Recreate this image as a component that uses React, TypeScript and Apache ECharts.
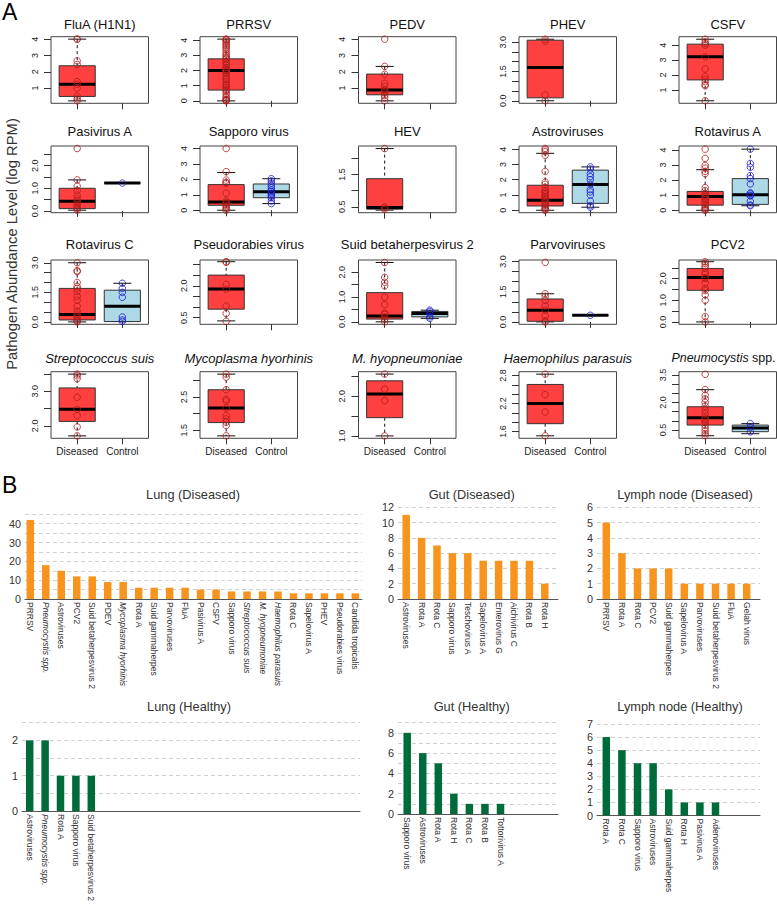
import React, { useEffect, useRef } from "react";
import * as echarts from "echarts";

const FONT = '"Liberation Sans", Arial, Helvetica, sans-serif';

// ---------------- Panel A : boxplots ----------------
const pathogenTitles = [
  "FluA (H1N1)", "PRRSV", "PEDV", "PHEV", "CSFV",
  "Pasivirus A", "Sapporo virus", "HEV", "Astroviruses", "Rotavirus A",
  "Rotavirus C", "Pseudorabies virus", "Suid betaherpesvirus 2", "Parvoviruses", "PCV2",
  "{i|Streptococcus suis}", "{i|Mycoplasma hyorhinis}", "{i|M. hyopneumoniae}", "{i|Haemophilus parasuis}", "{i|Pneumocystis} spp.",
];
const groupNames = ["Diseased", "Control"];

const yAxisRanges = [
  [0.07, 4.15], [-0.16, 4.23], [0.07, 4.15], [-0.13, 3.28], [0.1, 4.57],
  [-0.08, 2.87], [-0.16, 4.16], [0.32, 2.38], [-0.16, 4.21], [-0.16, 4.26],
  [-0.12, 3.14], [0.19, 3.21], [-0.1, 2.5], [-0.12, 3.08], [-0.11, 2.86],
  [1.64, 3.57], [1.256, 3.264], [0.94, 2.62], [1.457, 2.883], [0.05, 3.68],
];
const yAxisTicks = [
  [1, 2, 3, 4], [0, 1, 2, 3, 4], [1, 2, 3, 4], [0, 0.5, 1, 1.5, 2, 2.5, 3], [1, 2, 3, 4],
  [0, 0.5, 1, 1.5, 2, 2.5], [0, 1, 2, 3, 4], [0.5, 1, 1.5, 2], [0, 1, 2, 3, 4], [0, 1, 2, 3, 4],
  [0, 0.5, 1, 1.5, 2, 2.5, 3], [0.5, 1, 1.5, 2, 2.5, 3], [0, 0.5, 1, 1.5, 2], [0, 0.5, 1, 1.5, 2, 2.5, 3], [0, 0.5, 1, 1.5, 2, 2.5],
  [2, 2.5, 3, 3.5], [1.5, 2, 2.5, 3], [1, 1.5, 2, 2.5], [1.6, 1.8, 2, 2.2, 2.4, 2.6, 2.8], [0.5, 1, 1.5, 2, 2.5, 3, 3.5],
];
const yAxisTickLabels = [
  [1, 2, 3, 4], [0, 1, 2, 3, 4], [1, 2, 3, 4], [0, 1.5, 3], [1, 2, 3, 4],
  [0, 1, 2], [0, 1, 2, 3, 4], [0.5, 1.5], [0, 1, 2, 3, 4], [0, 1, 2, 3, 4],
  [0, 1.5, 3], [0.5, 2], [0, 1, 2], [0, 1.5, 3], [0, 1, 2],
  [2, 3], [1.5, 2.5], [1, 2], [1.6, 2.2, 2.8], [0.5, 2, 3.5],
];
const yLabelDecimals = [0, 0, 0, 1, 0, 1, 0, 1, 0, 0, 1, 1, 1, 1, 1, 1, 1, 1, 1, 1];

// [lower whisker, Q1, median, Q3, upper whisker]
const diseasedBox = [
  [0.22, 0.49, 1.24, 2.37, 4.0], [0.0, 0.71, 2.0, 2.77, 4.07], [0.22, 0.59, 0.88, 1.86, 2.33], [0.0, 0.15, 1.7, 3.1, 3.15], [0.27, 1.67, 3.22, 4.07, 4.4],
  [0.03, 0.1, 0.43, 1.0, 1.37], [0.0, 0.32, 0.53, 1.66, 2.44], [0.4, 0.43, 0.48, 1.37, 2.3], [0.0, 0.28, 0.66, 1.64, 3.73], [0.0, 0.34, 0.92, 1.25, 2.69],
  [0.0, 0.1, 0.38, 1.7, 3.0], [0.35, 0.9, 1.85, 2.5, 3.13], [0.0, 0.11, 0.24, 1.18, 2.4], [0.0, 0.03, 0.58, 1.14, 1.4], [0.0, 1.46, 2.05, 2.47, 2.78],
  [1.71, 2.13, 2.48, 3.1, 3.5], [1.33, 1.73, 2.17, 2.72, 3.19], [1.0, 1.46, 2.06, 2.39, 2.56], [1.51, 1.77, 2.2, 2.61, 2.83], [0.19, 0.77, 1.17, 1.77, 2.7],
];
const controlBox = [
  null, null, null, null, null,
  [1.23, 1.23, 1.23, 1.23, 1.23], [0.43, 0.81, 1.19, 1.7, 2.04], null, [0.2, 0.45, 1.68, 2.63, 2.84], [0.3, 0.39, 1.03, 2.1, 4.05],
  [0.02, 0.02, 0.79, 1.61, 1.96], null, [0.14, 0.2, 0.34, 0.42, 0.47], [0.33, 0.33, 0.33, 0.33, 0.33], null,
  null, null, null, null, [0.3, 0.41, 0.61, 0.77, 0.85],
];
const diseasedSamples = [
  [4.0, 4.0, 2.67, 2.45, 1.4, 1.24, 1.0, 0.5, 0.34, 0.22],
  [0, 0.02, 0.05, 0.1, 0.2, 0.3, 0.45, 0.6, 0.7, 0.75, 0.9, 1.0, 1.1, 1.25, 1.4, 1.5, 1.65, 1.8, 1.9, 2.0, 2.0, 2.05, 2.1, 2.2, 2.35, 2.5, 2.6, 2.75, 2.8, 2.9, 3.0, 3.1, 3.25, 3.4, 3.5, 3.6, 3.7, 3.8, 3.9, 4.0, 4.05, 4.07],
  [4.0, 2.33, 1.85, 1.3, 1.1, 0.9, 0.85, 0.7, 0.55, 0.4, 0.22],
  [3.15, 3.05, 0.3, 0.0],
  [4.4, 4.22, 4.1, 4.0, 3.22, 2.4, 1.89, 1.7, 1.55, 1.35, 1.27, 0.27],
  [2.76, 1.37, 1.1, 0.9, 0.7, 0.55, 0.45, 0.35, 0.25, 0.15, 0.1, 0.03],
  [4.0, 2.5, 1.95, 1.8, 1.75, 1.1, 0.6, 0.5, 0.4, 0.3, 0.2, 0.1, 0.0],
  [2.3, 0.5, 0.46, 0.42],
  [4.05, 3.95, 3.83, 3.6, 2.54, 1.85, 1.7, 1.5, 1.3, 1.2, 1.1, 1.0, 0.9, 0.8, 0.7, 0.6, 0.5, 0.4, 0.3, 0.2, 0.1, 0.05, 0.0],
  [4.05, 3.44, 2.97, 2.8, 2.58, 2.43, 1.5, 1.3, 1.1, 1.0, 0.9, 0.8, 0.7, 0.55, 0.4, 0.3, 0.2, 0.1, 0.05, 0.0],
  [3.0, 2.6, 2.55, 2.0, 1.8, 1.7, 1.55, 1.3, 1.1, 0.8, 0.55, 0.4, 0.3, 0.2, 0.1, 0.05, 0.0],
  [3.13, 3.1, 2.06, 1.84, 1.05, 0.7, 0.33],
  [2.4, 1.8, 1.6, 1.45, 1.0, 0.7, 0.35, 0.3, 0.2, 0.1, 0.0],
  [2.96, 1.4, 1.27, 1.07, 0.79, 0.58, 0.3, 0.05, 0.0],
  [2.78, 2.7, 2.6, 2.5, 2.3, 2.2, 2.05, 2.0, 1.8, 1.55, 1.45, 1.25, 1.0, 0.25, 0.0],
  [3.5, 3.45, 3.37, 2.83, 2.48, 2.3, 1.97, 1.71],
  [3.19, 3.1, 2.72, 2.43, 2.38, 2.17, 1.94, 1.84, 1.74, 1.64, 1.33],
  [2.56, 2.18, 1.89, 1.0],
  [2.83, 2.39, 2.02, 1.51],
  [3.54, 2.7, 2.4, 2.2, 2.0, 1.8, 1.6, 1.4, 1.2, 1.1, 1.0, 0.9, 0.75, 0.6, 0.45, 0.3, 0.19],
];
const controlSamples = [
  [], [], [], [], [],
  [1.23], [2.04, 1.9, 1.75, 1.6, 1.45, 1.3, 1.2, 1.1, 1.0, 0.9, 0.8, 0.6, 0.43], [], [2.84, 2.7, 2.4, 2.2, 2.0, 1.7, 1.35, 1.2, 1.0, 0.6, 0.3, 0.2], [4.05, 3.1, 2.85, 2.3, 2.1, 1.75, 1.15, 1.1, 1.0, 0.95, 0.6, 0.35, 0.3],
  [1.96, 1.7, 1.5, 1.25, 0.25, 0.1, 0.02], [], [0.47, 0.42, 0.34, 0.2, 0.14], [0.33], [],
  [], [], [], [], [0.85, 0.65, 0.4],
];

// ---------------- Panel B : detection counts ----------------
const lungDiseasedNames = ["PRRSV", "Pneumocystis spp.", "Astroviruses", "PCV2", "Suid betaherpesvirus 2", "PDEV", "Mycoplasma hyorhinis", "Rota A", "Suid gammaherpes", "Parvoviruses", "FluA", "Pasivirus A", "CSFV", "Sapporo virus", "Streptococcus suis", "M. hyopneumoniae", "Haemophilus parasuis", "Rota C", "Sapelovirus A", "PHEV", "Pseudorabies virus", "Candida tropicalis"];
const lungDiseasedCounts = [42, 18, 15, 12, 12, 9, 9, 6, 6, 6, 6, 5, 5, 4, 4, 4, 4, 3, 3, 3, 3, 3];
const gutDiseasedNames = ["Astroviruses", "Rota A", "Rota C", "Sapporo virus", "Teschovirus A", "Sapelovirus A", "Enterovirus G", "Aichivirus C", "Rota B", "Rota H"];
const gutDiseasedCounts = [11, 8, 7, 6, 6, 5, 5, 5, 5, 2];
const lymphDiseasedNames = ["PRRSV", "Rota A", "Rota C", "PCV2", "Suid gammaherpes", "Sapelovirus A", "Parvoviruses", "Suid betaherpesvirus 2", "FluA", "Gelah virus"];
const lymphDiseasedCounts = [5, 3, 2, 2, 2, 1, 1, 1, 1, 1];
const lungHealthyNames = ["Astroviruses", "Pneumocystis spp.", "Rota A", "Sapporo virus", "Suid betaherpesvirus 2"];
const lungHealthyCounts = [2, 2, 1, 1, 1];
const gutHealthyNames = ["Sapporo virus", "Astroviruses", "Rota A", "Rota H", "Rota C", "Rota B", "Tottorivirus A"];
const gutHealthyCounts = [8, 6, 5, 2, 1, 1, 1];
const lymphHealthyNames = ["Rota A", "Rota C", "Sapporo virus", "Astroviruses", "Suid gammaherpes", "Rota H", "Pasivirus A", "Adenoviruses"];
const lymphHealthyCounts = [6, 5, 4, 4, 2, 1, 1, 1];
const italicTaxa = ["Pneumocystis spp.", "Mycoplasma hyorhinis", "Streptococcus suis", "M. hyopneumoniae", "Haemophilus parasuis"];

// ---------------- layout ----------------
const A_COL_LEFT = [51, 200, 358.5, 519, 679];
const A_W = 97.5;
const A_ROW_TOP = [36.7, 146, 260, 371.7];
const A_ROW_H = [66.6, 66.7, 64.3, 66.6];
const A_TITLE_Y = [24, 131.7, 244.7, 358.3];

const RED = "#FF4040";
const BLUE_FILL = "#ADD8E6";
const RED_PT = "#B01A1A";
const BLUE_PT = "#1A1AD0";
const ORANGE = "#F7941E";
const GREEN = "#006B3A";

const bPanels = [
  { title: "Lung (Diseased)", titleX: 193, titleY: 494, names: lungDiseasedNames, counts: lungDiseasedCounts, color: ORANGE, left: 25, right: 362, top: 514.3, bottom: 599, first: 30.3, step: 15.48, max: 45, interval: 5, labelEvery: 10 },
  { title: "Gut (Diseased)", titleX: 471.7, titleY: 494, names: gutDiseasedNames, counts: gutDiseasedCounts, color: ORANGE, left: 398, right: 558, top: 507.3, bottom: 599, first: 406.2, step: 15.4, max: 12, interval: 2, labelEvery: 2 },
  { title: "Lymph node (Diseased)", titleX: 685, titleY: 494, names: lymphDiseasedNames, counts: lymphDiseasedCounts, color: ORANGE, left: 597, right: 760, top: 507.3, bottom: 599, first: 606.3, step: 15.6, max: 6, interval: 1, labelEvery: 1 },
  { title: "Lung (Healthy)", titleX: 189, titleY: 706, names: lungHealthyNames, counts: lungHealthyCounts, color: GREEN, left: 22, right: 360, top: 722.7, bottom: 814, first: 29.7, step: 15.4, max: 2.5, interval: 0.5, labelEvery: 1 },
  { title: "Gut (Healthy)", titleX: 471.7, titleY: 706, names: gutHealthyNames, counts: gutHealthyCounts, color: GREEN, left: 398, right: 558, top: 722.7, bottom: 814, first: 407.2, step: 15.55, max: 9, interval: 1, labelEvery: 2 },
  { title: "Lymph node (Healthy)", titleX: 680, titleY: 706, names: lymphHealthyNames, counts: lymphHealthyCounts, color: GREEN, left: 597, right: 760, top: 724, bottom: 815.5, first: 606.3, step: 15.6, max: 7, interval: 1, labelEvery: 1 },
];

function boxSeries(gi: number, stats: number[], pos: number, fill: string) {
  return {
    type: "custom",
    xAxisIndex: gi,
    yAxisIndex: gi,
    z: 2,
    silent: true,
    encode: { x: 0, y: [1, 2, 3, 4, 5] },
    data: [[pos, ...stats]],
    renderItem: (params: any, api: any) => {
      const x = api.value(0);
      const lo = api.value(1), q1 = api.value(2), md = api.value(3), q3 = api.value(4), hi = api.value(5);
      const half = api.size([0.8, 0])[0] / 2;
      const cx = api.coord([x, md])[0];
      const y = (v: number) => api.coord([x, v])[1];
      const sh = half / 2;
      const dash = { stroke: "#111", lineWidth: 1, lineDash: [3, 3] };
      const solid = { stroke: "#111", lineWidth: 1 };
      return {
        type: "group",
        children: [
          { type: "line", shape: { x1: cx, y1: y(hi), x2: cx, y2: y(q3) }, style: dash },
          { type: "line", shape: { x1: cx, y1: y(q1), x2: cx, y2: y(lo) }, style: dash },
          { type: "line", shape: { x1: cx - sh, y1: y(hi), x2: cx + sh, y2: y(hi) }, style: solid },
          { type: "line", shape: { x1: cx - sh, y1: y(lo), x2: cx + sh, y2: y(lo) }, style: solid },
          { type: "rect", shape: { x: cx - half, y: y(q3), width: 2 * half, height: y(q1) - y(q3) }, style: { fill, stroke: "#333", lineWidth: 1 } },
          { type: "line", shape: { x1: cx - half, y1: y(md), x2: cx + half, y2: y(md) }, style: { stroke: "#000", lineWidth: 3 } },
        ],
      };
    },
  };
}

function pointSeries(gi: number, values: number[], pos: number, color: string) {
  return {
    type: "scatter",
    xAxisIndex: gi,
    yAxisIndex: gi,
    z: 3,
    silent: true,
    symbol: "circle",
    symbolSize: 6.5,
    itemStyle: { color: "rgba(0,0,0,0)", borderColor: color, borderWidth: 1 },
    data: values.map((v) => [pos, v]),
  };
}

function buildOption() {
  const grid: any[] = [];
  const xAxis: any[] = [];
  const yAxis: any[] = [];
  const series: any[] = [];
  const graphic: any[] = [];

  pathogenTitles.forEach((title, i) => {
    const r = Math.floor(i / 5);
    const c = i % 5;
    const left = A_COL_LEFT[c];
    grid.push({ left, top: A_ROW_TOP[r], width: A_W, height: A_ROW_H[r], show: true, borderColor: "#444", borderWidth: 1, backgroundColor: "transparent" });
    xAxis.push({
      gridIndex: i, type: "value", min: 0.42, max: 2.58,
      axisLine: { show: false }, splitLine: { show: false },
      axisTick: { show: true, customValues: [1, 2], length: 6, lineStyle: { color: "#333" } },
      axisLabel: { show: r === 3, customValues: [1, 2], formatter: (v: number) => groupNames[Math.round(v) - 1], fontSize: 10, fontFamily: FONT, color: "#222", margin: 8 },
    });
    const dec = yLabelDecimals[i];
    yAxis.push({
      gridIndex: i, type: "value", min: yAxisRanges[i][0], max: yAxisRanges[i][1],
      axisLine: { show: false }, splitLine: { show: false },
      axisTick: { show: true, customValues: yAxisTicks[i], length: 7, lineStyle: { color: "#333" } },
      axisLabel: { customValues: yAxisTickLabels[i], rotate: 90, fontSize: 9, fontFamily: FONT, color: "#222", margin: 12, formatter: (v: number) => v.toFixed(dec) },
    });
    series.push(boxSeries(i, diseasedBox[i], 1, RED));
    const cb = controlBox[i];
    if (cb) series.push(boxSeries(i, cb, 2, BLUE_FILL));
    series.push(pointSeries(i, diseasedSamples[i], 1, RED_PT));
    if (controlSamples[i].length) series.push(pointSeries(i, controlSamples[i], 2, BLUE_PT));

    const last = i === 19;
    graphic.push({
      type: "text", x: last ? 723.5 : left + A_W / 2, y: A_TITLE_Y[r], silent: true,
      style: {
        text: title, fontSize: last ? 12.4 : 13, fontFamily: FONT, fill: "#111", align: "center", verticalAlign: "middle",
        rich: { i: { fontStyle: "italic", fontSize: last ? 12.4 : 13, fontFamily: FONT, fill: "#111" } },
      },
    });
  });

  bPanels.forEach((p, k) => {
    const gi = 20 + k;
    grid.push({ left: p.left, top: p.top, width: p.right - p.left, height: p.bottom - p.top });
    xAxis.push({
      gridIndex: gi, type: "value",
      min: -(p.first - p.left) / p.step, max: (p.right - p.first) / p.step,
      axisLine: { show: true, lineStyle: { color: "#555", width: 1 } },
      axisTick: { show: false }, splitLine: { show: false },
      axisLabel: {
        customValues: p.names.map((_, j) => j), rotate: -90, margin: 3, fontSize: 8.5, fontFamily: FONT, color: "#333",
        formatter: (v: number) => {
          const n = p.names[Math.round(v)] || "";
          return italicTaxa.includes(n) ? `{i|${n}}` : n;
        },
        rich: { i: { fontStyle: "italic", fontSize: 8.5, fontFamily: FONT, color: "#333" } },
      },
    });
    yAxis.push({
      gridIndex: gi, type: "value", min: 0, max: p.max, interval: p.interval,
      axisLine: { show: false }, axisTick: { show: false },
      splitLine: { show: true, lineStyle: { color: "#cfcfcf", type: [4, 3], width: 1 } },
      axisLabel: {
        fontSize: 10.8, fontFamily: FONT, color: "#333", margin: 4,
        formatter: (v: number) => (Math.abs(v / p.labelEvery - Math.round(v / p.labelEvery)) < 1e-6 ? String(v) : ""),
      },
    });
    series.push({
      type: "bar", xAxisIndex: gi, yAxisIndex: gi, barWidth: 7.5, silent: true,
      itemStyle: { color: p.color },
      data: p.counts.map((v, j) => [j, v]),
    });
    graphic.push({
      type: "text", x: p.titleX, y: p.titleY, silent: true,
      style: { text: p.title, fontSize: 12.8, fontFamily: FONT, fill: "#333", align: "center", verticalAlign: "middle" },
    });
  });

  graphic.push({ type: "text", x: 2, y: 12, silent: true, style: { text: "A", fontSize: 23, fontFamily: FONT, fill: "#000", align: "left", verticalAlign: "middle" } });
  graphic.push({ type: "text", x: 2, y: 485, silent: true, style: { text: "B", fontSize: 23, fontFamily: FONT, fill: "#000", align: "left", verticalAlign: "middle" } });
  graphic.push({
    type: "text", x: 12, y: 244, rotation: Math.PI / 2, silent: true,
    style: { text: "Pathogen Abundance Level (log RPM)", fontSize: 14.8, fontFamily: FONT, fill: "#333", align: "center", verticalAlign: "middle" },
  });

  return { animation: false, backgroundColor: "#ffffff", grid, xAxis, yAxis, series, graphic };
}

export default function App() {
  const ref = useRef<HTMLDivElement>(null);
  useEffect(() => {
    const chart = echarts.init(ref.current!, null, { renderer: "svg" });
    chart.setOption(buildOption() as any);
    return () => chart.dispose();
  }, []);
  return <div ref={ref} style={{ position: "fixed", left: 0, top: 0, width: 777, height: 904, background: "#fff" }} />;
}
